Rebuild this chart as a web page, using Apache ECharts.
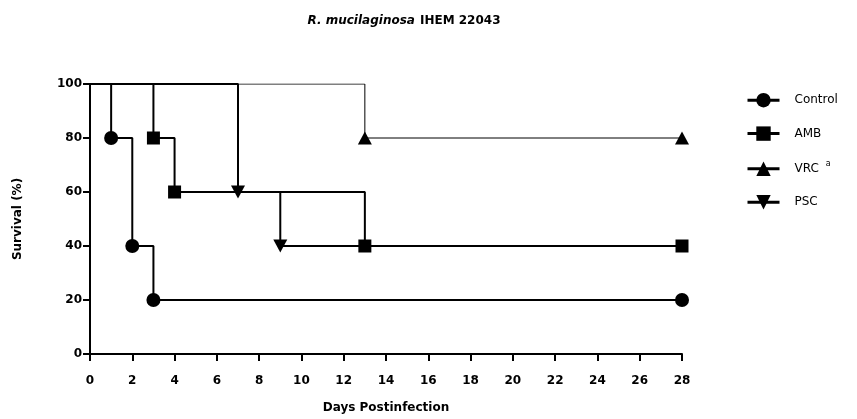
<!DOCTYPE html>
<html>
<head>
<meta charset="utf-8">
<script src="https://cdn.jsdelivr.net/npm/echarts@6/dist/echarts.min.js"></script>
<style>html,body{margin:0;padding:0;background:#fff;}#c{width:857px;height:419px;}</style>
</head>
<body>
<div id="c"></div>
<script>
var seriesNames = ['Control', 'AMB', 'VRC', 'PSC'];
var controlDays = [0, 1, 2, 3, 28];
var controlSurv = [100, 80, 40, 20, 20];
var ambDays = [0, 3, 4, 13, 28];
var ambSurv = [100, 80, 60, 40, 40];
var vrcDays = [0, 13, 28];
var vrcSurv = [100, 80, 80];
var pscDays = [0, 7, 9, 28];
var pscSurv = [100, 60, 40, 40];
var xTicks = [0, 2, 4, 6, 8, 10, 12, 14, 16, 18, 20, 22, 24, 26, 28];
var yTicks = [0, 20, 40, 60, 80, 100];

var FONT = '"DejaVu Sans", "Liberation Sans", Arial, sans-serif';

function pts(days, surv, hideLast) {
  return days.map(function (d, i) {
    var p = { value: [d, surv[i]] };
    if (i === 0 || (hideLast && i === days.length - 1)) p.symbol = 'none';
    return p;
  });
}

var downTri = 'path://M0,0 L10,0 L5,9 Z';
var upTri = 'path://M5,0 L10,9 L0,9 Z';

var chart = echarts.init(document.getElementById('c'), null, { renderer: 'canvas' });
chart.setOption({
  animation: false,
  backgroundColor: '#fff',
  title: {
    text: '{i|R. mucilaginosa} {b|IHEM 22043}',
    left: 399,
    top: 7,
    textAlign: 'center',
    textStyle: {
      rich: {
        i: { fontFamily: FONT, fontSize: 12, fontWeight: 'bold', fontStyle: 'italic', color: '#000' },
        b: { fontFamily: FONT, fontSize: 12, fontWeight: 'bold', color: '#000' }
      }
    }
  },
  legend: {
    orient: 'vertical',
    left: 741,
    top: 88,
    itemWidth: 32,
    itemHeight: 18,
    itemGap: 19,
    data: seriesNames,
    lineStyle: { width: 3 },
    textStyle: {
      fontFamily: FONT, fontSize: 12, color: '#000', padding: [0, 0, 0, 10],
      rich: {
        n: { fontFamily: FONT, fontSize: 12, color: '#000' },
        s: { fontFamily: FONT, fontSize: 8, color: '#000', padding: [0, 0, 10, 3] }
      }
    },
    formatter: function (name) {
      return name === 'VRC' ? '{n|VRC} {s|a}' : '{n|' + name + '}';
    }
  },
  grid: { left: 90, right: 175, top: 84, bottom: 63, containLabel: false },
  xAxis: {
    type: 'value', min: 0, max: 28, interval: 2,
    name: 'Days Postinfection', nameLocation: 'middle', nameGap: 48,
    nameTextStyle: { fontFamily: FONT, fontSize: 12, fontWeight: 'bold', color: '#000' },
    axisLine: { onZero: false, lineStyle: { color: '#000', width: 2 } },
    axisTick: { length: 7, lineStyle: { color: '#000', width: 2 } },
    axisLabel: { fontFamily: FONT, fontSize: 12, fontWeight: 'bold', color: '#000', margin: 21,
      customValues: xTicks },
    splitLine: { show: false }
  },
  yAxis: {
    type: 'value', min: 0, max: 100, interval: 20,
    name: 'Survival (%)', nameLocation: 'middle', nameGap: 66,
    nameTextStyle: { fontFamily: FONT, fontSize: 12, fontWeight: 'bold', color: '#000' },
    axisLine: { show: true, onZero: false, lineStyle: { color: '#000', width: 2 } },
    axisTick: { show: true, length: 7, lineStyle: { color: '#000', width: 2 } },
    axisLabel: { fontFamily: FONT, fontSize: 12, fontWeight: 'bold', color: '#000', margin: 8,
      customValues: yTicks },
    splitLine: { show: false }
  },
  series: [
    { name: 'Control', type: 'line', step: 'end', data: pts(controlDays, controlSurv),
      symbol: 'circle', symbolSize: 14, color: '#000',
      lineStyle: { color: '#000', width: 2 }, itemStyle: { color: '#000' }, z: 3 },
    { name: 'AMB', type: 'line', step: 'end', data: pts(ambDays, ambSurv),
      symbol: 'rect', symbolSize: 13, color: '#000',
      lineStyle: { color: '#000', width: 2 }, itemStyle: { color: '#000' }, z: 4 },
    { name: 'VRC', type: 'line', step: 'end', data: pts(vrcDays, vrcSurv),
      symbol: upTri, symbolSize: [14, 13], color: '#000',
      lineStyle: { color: '#000', width: 1 }, itemStyle: { color: '#000' }, z: 2 },
    { name: 'PSC', type: 'line', step: 'end', data: pts(pscDays, pscSurv, true),
      symbol: downTri, symbolSize: [14, 13], color: '#000',
      lineStyle: { color: '#000', width: 2 }, itemStyle: { color: '#000' }, z: 3 }
  ]
});
</script>
</body>
</html>
